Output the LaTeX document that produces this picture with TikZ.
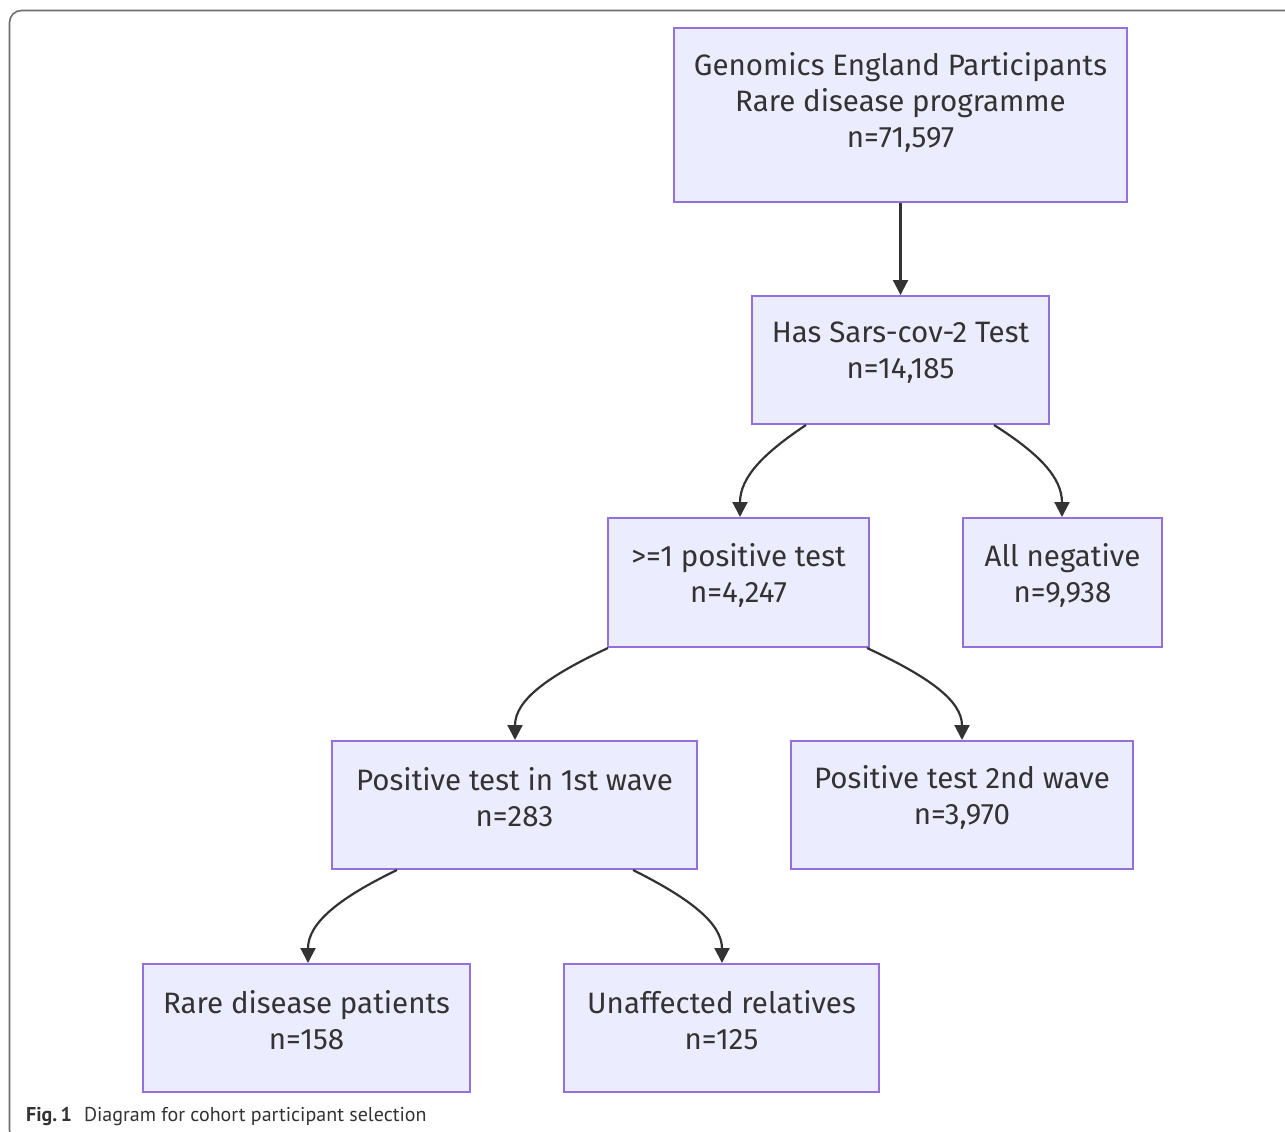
\documentclass[tikz,border=0pt]{standalone}
\usepackage{fontspec}
\setmainfont{Fira Sans}
\newfontfamily\capfont{PT Sans}
\usetikzlibrary{arrows.meta}
\definecolor{boxfill}{HTML}{ECECFF}
\definecolor{boxline}{HTML}{9370DB}
\definecolor{ink}{HTML}{333333}
\definecolor{framec}{HTML}{6E6E6E}
\tikzset{
  stagebox/.style={draw=boxline, fill=boxfill, line width=2pt, inner sep=0pt},
  stagetext/.style={text=ink, align=center, inner sep=0pt, font=\fontsize{29.5}{36}\selectfont},
  flowarrow/.style={draw=ink, line width=2.2pt, -{Triangle[length=15pt,width=15pt]}},
}
\begin{document}
\begin{tikzpicture}[x=1pt,y=-1pt]
\useasboundingbox (0,0) rectangle (1285,1132);
\fill[white] (0,0) rectangle (1285,1132);
\begin{scope}
\clip (0,0) rectangle (1285,1132);
\draw[framec, line width=1.6pt, rounded corners=12pt] (9.5,10.5) rectangle (1310,1142);
\end{scope}

\node[stagebox, minimum width=453pt, minimum height=174pt] (b1) at (900.5,115) {};
\node[stagetext] (t1) at (900.5,102) {Genomics England Participants\\Rare disease programme\\n=71,597};

\node[stagebox, minimum width=297pt, minimum height=128pt] (b2) at (900.5,360) {};
\node[stagetext] (t2) at (900.5,352.5) {Has Sars-cov-2 Test\\n=14,185};

\node[stagebox, minimum width=261pt, minimum height=129pt] (b3) at (738.5,582.5) {};
\node[stagetext] (t3) at (738.5,575) {>=1 positive test\\n=4,247};

\node[stagebox, minimum width=199pt, minimum height=129pt] (b4) at (1062.5,582.5) {};
\node[stagetext] (t4) at (1062.5,575) {All negative\\n=9,938};

\node[stagebox, minimum width=365pt, minimum height=128pt] (b5) at (514.5,805) {};
\node[stagetext] (t5) at (514.5,797.5) {Positive test in 1st wave\\n=283};

\node[stagebox, minimum width=342pt, minimum height=128pt] (b6) at (962,805) {};
\node[stagetext] (t6) at (962,797.5) {Positive test 2nd wave\\n=3,970};

\node[stagebox, minimum width=327pt, minimum height=128pt] (b7) at (306.5,1028) {};
\node[stagetext] (t7) at (306.5,1020.5) {Rare disease patients\\n=158};

\node[stagebox, minimum width=315pt, minimum height=128pt] (b8) at (721.5,1028) {};
\node[stagetext] (t8) at (721.5,1020.5) {Unaffected relatives\\n=125};

\draw[flowarrow] (b1.south) -- (b2.north);
\draw[flowarrow] ([xshift=-94.5pt]b2.south) .. controls +(-42,28) and +(0,-40) .. ([xshift=1.5pt]b3.north);
\draw[flowarrow] ([xshift=93.5pt]b2.south) .. controls +(44,28) and +(0,-40) .. ([xshift=-0.5pt]b4.north);
\draw[flowarrow] ([xshift=-130.5pt]b3.south) .. controls +(-60,28) and +(0,-40) .. ([xshift=0.5pt]b5.north);
\draw[flowarrow] ([xshift=128.5pt]b3.south) .. controls +(60,28) and +(0,-40) .. (b6.north);
\draw[flowarrow] ([xshift=-117.5pt]b5.south) .. controls +(-58,28) and +(0,-40) .. ([xshift=1.5pt]b7.north);
\draw[flowarrow] ([xshift=118.5pt]b5.south) .. controls +(56,28) and +(0,-40) .. ([xshift=0.5pt]b8.north);

\node[anchor=base west, inner sep=0pt, text=ink, font=\capfont\fontsize{20}{24}\selectfont] (cap) at (26,1121) {\textbf{Fig.\,1}\hspace{12pt}Diagram for cohort participant selection};
\end{tikzpicture}
\end{document}
